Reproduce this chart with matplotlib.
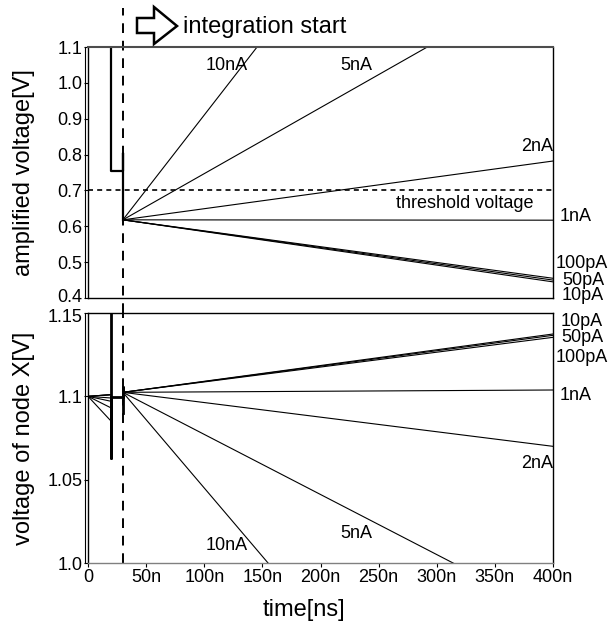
import matplotlib

matplotlib.use("Agg")
import matplotlib.pyplot as plt
import matplotlib.transforms as mtrans
from matplotlib.patches import Polygon

plt.rcParams["font.family"] = ["Liberation Sans", "DejaVu Sans"]

# currents, in order from lowest to highest
currents = ["10pA", "50pA", "100pA", "1nA", "2nA", "5nA", "10nA"]

# amplified voltage: value at 400 ns after integration start (t=30 ns, 0.618 V)
amp_start = 0.618
amp_end = [0.445, 0.450, 0.455, 0.617, 0.782, 1.299, 2.163]

# node X voltage: value at 20 ns (before reset) and at 400 ns
node_t0 = 1.1
node_pre = [1.101, 1.101, 1.101, 1.099, 1.097, 1.093, 1.085]
node_start = 1.1024
node_end = [1.1374, 1.1366, 1.1354, 1.1038, 1.070, 0.969, 0.799]

# shared reset waveforms (0-30 ns)
amp_reset_t = [20, 20, 30, 30, 30]
amp_reset_v = [1.2, 0.754, 0.754, 0.804, amp_start]
node_reset_t = [20, 20, 20, 20, 30, 30, 30]
node_reset_v = [1.17, 1.063, 1.0998, 1.0998, 1.0998, 1.1058, 1.090]

t_pre, t_start, t_end = 20, 30, 400
x_ticks = [0, 50, 100, 150, 200, 250, 300, 350, 400]
x_labels = ["0", "50n", "100n", "150n", "200n", "250n", "300n", "350n", "400n"]
amp_ticks = [0.4, 0.5, 0.6, 0.7, 0.8, 0.9, 1.0, 1.1]
node_ticks = [1.0, 1.05, 1.1, 1.15]
threshold = 0.7

W, H = 614, 629
fig = plt.figure(figsize=(W / 100, H / 100), dpi=100)
ax1 = fig.add_axes([88 / W, 1 - 298 / H, 465 / W, 251 / H])
ax2 = fig.add_axes([88 / W, 1 - 563 / H, 465 / W, 250 / H])

lw = 0.8
# top: amplified voltage
ax1.plot(amp_reset_t, amp_reset_v, color="k", lw=1.6)
for v in amp_end:
    ax1.plot([t_start, t_end], [amp_start, v], color="k", lw=lw)
ax1.axhline(threshold, color="k", lw=1.2, ls=(0, (3, 2.5)))
ax1.set_xlim(0, 400)
ax1.set_ylim(0.4, 1.1)
ax1.set_yticks(amp_ticks)
ax1.set_yticklabels([f"{v:.1f}" for v in amp_ticks])
ax1.set_xticks([])
ax1.set_ylabel("amplified voltage[V]", fontsize=17)
ax1.yaxis.set_label_coords(-0.115, 0.5)

# bottom: node X
ax2.plot(node_reset_t, node_reset_v, color="k", lw=2)
for pre, v in zip(node_pre, node_end):
    ax2.plot([0, t_pre], [node_t0, pre], color="k", lw=lw)
    ax2.plot([t_start, t_end], [node_start, v], color="k", lw=lw)
ax2.set_xlim(0, 400)
ax2.set_ylim(1.0, 1.15)
ax2.set_yticks(node_ticks)
ax2.set_yticklabels(["1.0", "1.05", "1.1", "1.15"])
ax2.set_xticks(x_ticks)
ax2.set_xticklabels(x_labels)
ax2.set_xlabel("time[ns]", fontsize=17)
ax2.xaxis.set_label_coords(0.465, -0.145)
ax2.set_ylabel("voltage of node X[V]", fontsize=17)
ax2.yaxis.set_label_coords(-0.115, 0.5)
ax2.spines["bottom"].set_color("0.5")
ax2.spines["bottom"].set_linewidth(2)

for ax in (ax1, ax2):
    ax.tick_params(labelsize=13, direction="out", length=3, width=0.8, pad=1)
    for s in ax.spines.values():
        s.set_linewidth(1.0)
    # doubled left edge
    ax.plot([-0.007, -0.007], [0, 1], transform=ax.transAxes, color="k",
            lw=0.8, clip_on=False)
ax1.spines["top"].set_color("0.3")
ax1.spines["top"].set_linewidth(1.5)

# nudge the two touching tick labels at the panel join apart
up = mtrans.ScaledTranslation(0, 2.5 / 100, fig.dpi_scale_trans)
down = mtrans.ScaledTranslation(0, -2.5 / 100, fig.dpi_scale_trans)
lbl = ax1.get_yticklabels()[0]
lbl.set_transform(lbl.get_transform() + up)
lbl = ax2.get_yticklabels()[-1]
lbl.set_transform(lbl.get_transform() + down)

# integration start dashed line across both panels
dash = (0, (5, 4))
ax2.axvline(t_start, color="k", lw=1.4, ls=dash)
ax1.plot([t_start, t_start], [0.4 - 15 / 358.6, 1.209], color="k", lw=1.4,
         ls=dash, clip_on=False)

# curve labels
lab = dict(fontsize=13, color="k", va="center")
fig.text(227 / W, 1 - 65 / H, "10nA", ha="center", **lab)
fig.text(356 / W, 1 - 65 / H, "5nA", ha="center", **lab)
fig.text(553 / W, 1 - 147 / H, "2nA", ha="right", **lab)
fig.text(533 / W, 1 - 204 / H, "threshold voltage", ha="right", **lab)
fig.text(560 / W, 1 - 216 / H, "1nA", ha="left", **lab)
fig.text(556 / W, 1 - 264 / H, "100pA", ha="left", **lab)
fig.text(562 / W, 1 - 280 / H, "50pA", ha="left", **lab)
fig.text(562 / W, 1 - 296 / H, "10pA", ha="left", **lab)
fig.text(561 / W, 1 - 322 / H, "10pA", ha="left", **lab)
fig.text(561 / W, 1 - 338 / H, "50pA", ha="left", **lab)
fig.text(556 / W, 1 - 358 / H, "100pA", ha="left", **lab)
fig.text(560 / W, 1 - 396 / H, "1nA", ha="left", **lab)
fig.text(553 / W, 1 - 463 / H, "2nA", ha="right", **lab)
fig.text(356 / W, 1 - 533 / H, "5nA", ha="center", **lab)
fig.text(227 / W, 1 - 545 / H, "10nA", ha="center", **lab)

# hollow arrow + title
pts = [(137, 18), (154, 18), (154, 7), (177, 26), (154, 44), (154, 33), (137, 33)]
fig.patches.append(Polygon([(x / W, 1 - y / H) for x, y in pts], closed=True,
                           fill=False, edgecolor="k", lw=1.8,
                           transform=fig.transFigure, figure=fig))
fig.text(183 / W, 1 - 27 / H, "integration start", ha="left", va="center",
         fontsize=17)

fig.savefig("out.png", dpi=100)
